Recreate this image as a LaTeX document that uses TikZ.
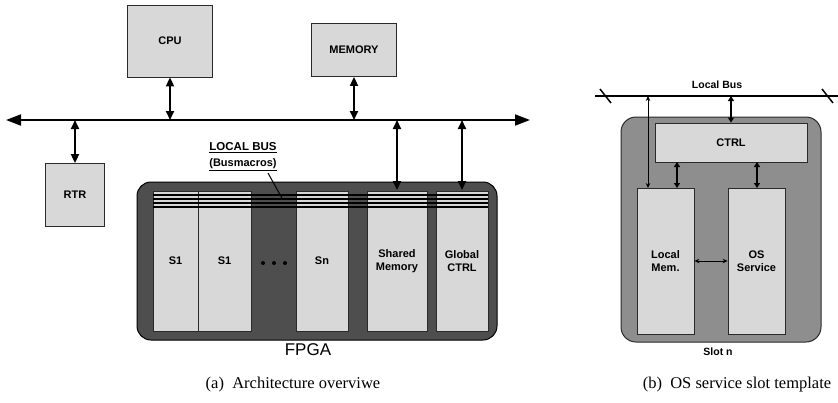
\documentclass[tikz,border=0pt]{standalone}
\usepackage{fontspec}
\setmainfont{Liberation Serif}
\newfontfamily\diafont{Liberation Sans}
\usetikzlibrary{arrows.meta}
\definecolor{boxfill}{HTML}{D8D8D8}
\definecolor{fpgafill}{HTML}{4E4E4E}
\definecolor{slotfill}{HTML}{8E8E8E}
\definecolor{edge}{HTML}{2A2A2A}
\tikzset{
  lbox/.style={draw=edge, line width=0.8pt, fill=boxfill, inner sep=0pt},
  txt/.style={font=\diafont\bfseries\fontsize{11}{12.5}\selectfont, align=center, inner sep=0pt},
  bigarrow/.style={line width=1.8pt, {Triangle[length=9pt,width=8pt]}-{Triangle[length=9pt,width=8pt]}},
  busarrow/.style={line width=1.8pt, {Triangle[length=15pt,width=11pt]}-{Triangle[length=15pt,width=11pt]}},
  thinarrow/.style={line width=0.9pt, {Stealth[length=5pt,width=4.5pt]}-{Stealth[length=5pt,width=4.5pt]}},
  shortarrow/.style={line width=1.2pt, {Triangle[length=5pt,width=6pt]}-{Triangle[length=5pt,width=6pt]}},
  captxt/.style={font=\fontsize{16.5}{18}\selectfont, inner sep=0pt}
}
\begin{document}
\begin{tikzpicture}[x=1pt,y=-1pt]
\useasboundingbox (0,0) rectangle (838,402);
% ---------- panel (a) ----------
\node[lbox, minimum width=85pt, minimum height=72pt] (cpu) at (170,41) {};
\node[txt] at (cpu) {CPU};
\node[lbox, minimum width=85pt, minimum height=53pt] (mem) at (354,50) {};
\node[txt] at (mem) {MEMORY};
\node[lbox, minimum width=59pt, minimum height=63pt] (rtr) at (75,195) {};
\node[txt] at (rtr) {RTR};

\coordinate (busL) at (6,120);
\coordinate (busR) at (530,120);
\draw[busarrow] (busL) -- (busR);

% FPGA
\draw[draw=black, line width=1pt, fill=fpgafill, rounded corners=14pt] (137,182) rectangle (497,340);
\node[lbox, minimum width=45pt, minimum height=140pt] (s1a) at (175.5,261) {};
\node[lbox, minimum width=53pt, minimum height=140pt] (s1b) at (224.5,261) {};
\node[lbox, minimum width=52pt, minimum height=140pt] (sn) at (322,261) {};
\node[lbox, minimum width=60pt, minimum height=140pt] (shm) at (397,261) {};
\node[lbox, minimum width=52pt, minimum height=140pt] (gct) at (462,261) {};
\node[txt] at (s1a) {S1};
\node[txt] at (s1b) {S1};
\node[txt] at (sn) {Sn};
\node[txt] at (shm) {Shared\\Memory};
\node[txt] at (gct) {Global\\CTRL};
% dots
\foreach \xx in {263,274,285} \fill[black] (\xx,263) circle (2pt);
% local bus lines
\foreach \yy in {195,199,203,207} \draw[line width=1.4pt] (153,\yy) -- (488,\yy);
\node[txt, font=\diafont\fontsize{17}{19}\selectfont] (fpga) at (308,350) {FPGA};
\node[txt, font=\diafont\bfseries\fontsize{11.5}{13}\selectfont] (lbl1) at (243,148) {\underline{LOCAL BUS}};
\node[txt] (lbl2) at (243,165) {\underline{(Busmacros)}};
\coordinate (ptr) at (283,200);
\draw[line width=1pt] (268,173) -- (ptr);

% arrows panel a
\draw[bigarrow] (cpu.south) -- (cpu.south |- busL);
\draw[bigarrow] (mem.south) -- (mem.south |- busL);
\draw[bigarrow] (rtr.north |- busL) -- (rtr.north);
\draw[bigarrow] (shm.center |- busL) -- (397,190);
\draw[bigarrow] (gct.center |- busL) -- (462,190);

\node[captxt] (capa) at (293,385) {(a)\ \ Architecture overviwe};

% ---------- panel (b) ----------
\coordinate (lbL) at (595,96);
\coordinate (lbR) at (838,96);
\draw[line width=1.6pt] (lbL) -- (lbR);
\draw[line width=1.5pt] (600,89) -- (611,103);
\draw[line width=1.5pt] (822,89) -- (833,103);
\node[txt, font=\diafont\bfseries\fontsize{10.5}{12}\selectfont] (lbus) at (717,85) {Local Bus};

\draw[draw=edge, line width=1pt, fill=slotfill, rounded corners=15pt] (621,117) rectangle (821,342);
\node[lbox, minimum width=152pt, minimum height=39pt] (ctrl) at (731,142.5) {};
\node[txt] at (ctrl) {CTRL};
\node[lbox, minimum width=57pt, minimum height=146pt] (lmem) at (665.5,261) {};
\node[txt] at (lmem) {Local\\Mem.};
\node[lbox, minimum width=57pt, minimum height=146pt] (os) at (756.5,261) {};
\node[txt] at (os) {OS\\Service};
\node[txt, font=\diafont\bfseries\fontsize{10.5}{12}\selectfont] (slotn) at (718,352) {Slot n};

\draw[thinarrow] (648,96) -- (648,188);
\draw[shortarrow] (ctrl.north |- lbL) -- (ctrl.north);
\draw[shortarrow] (677,162) -- (677,188);
\draw[shortarrow] (757,162) -- (757,188);
\draw[thinarrow] (lmem.east) -- (os.west);

\node[captxt] (capb) at (737,385) {(b)\ \ OS service slot template};
\end{tikzpicture}
\end{document}
